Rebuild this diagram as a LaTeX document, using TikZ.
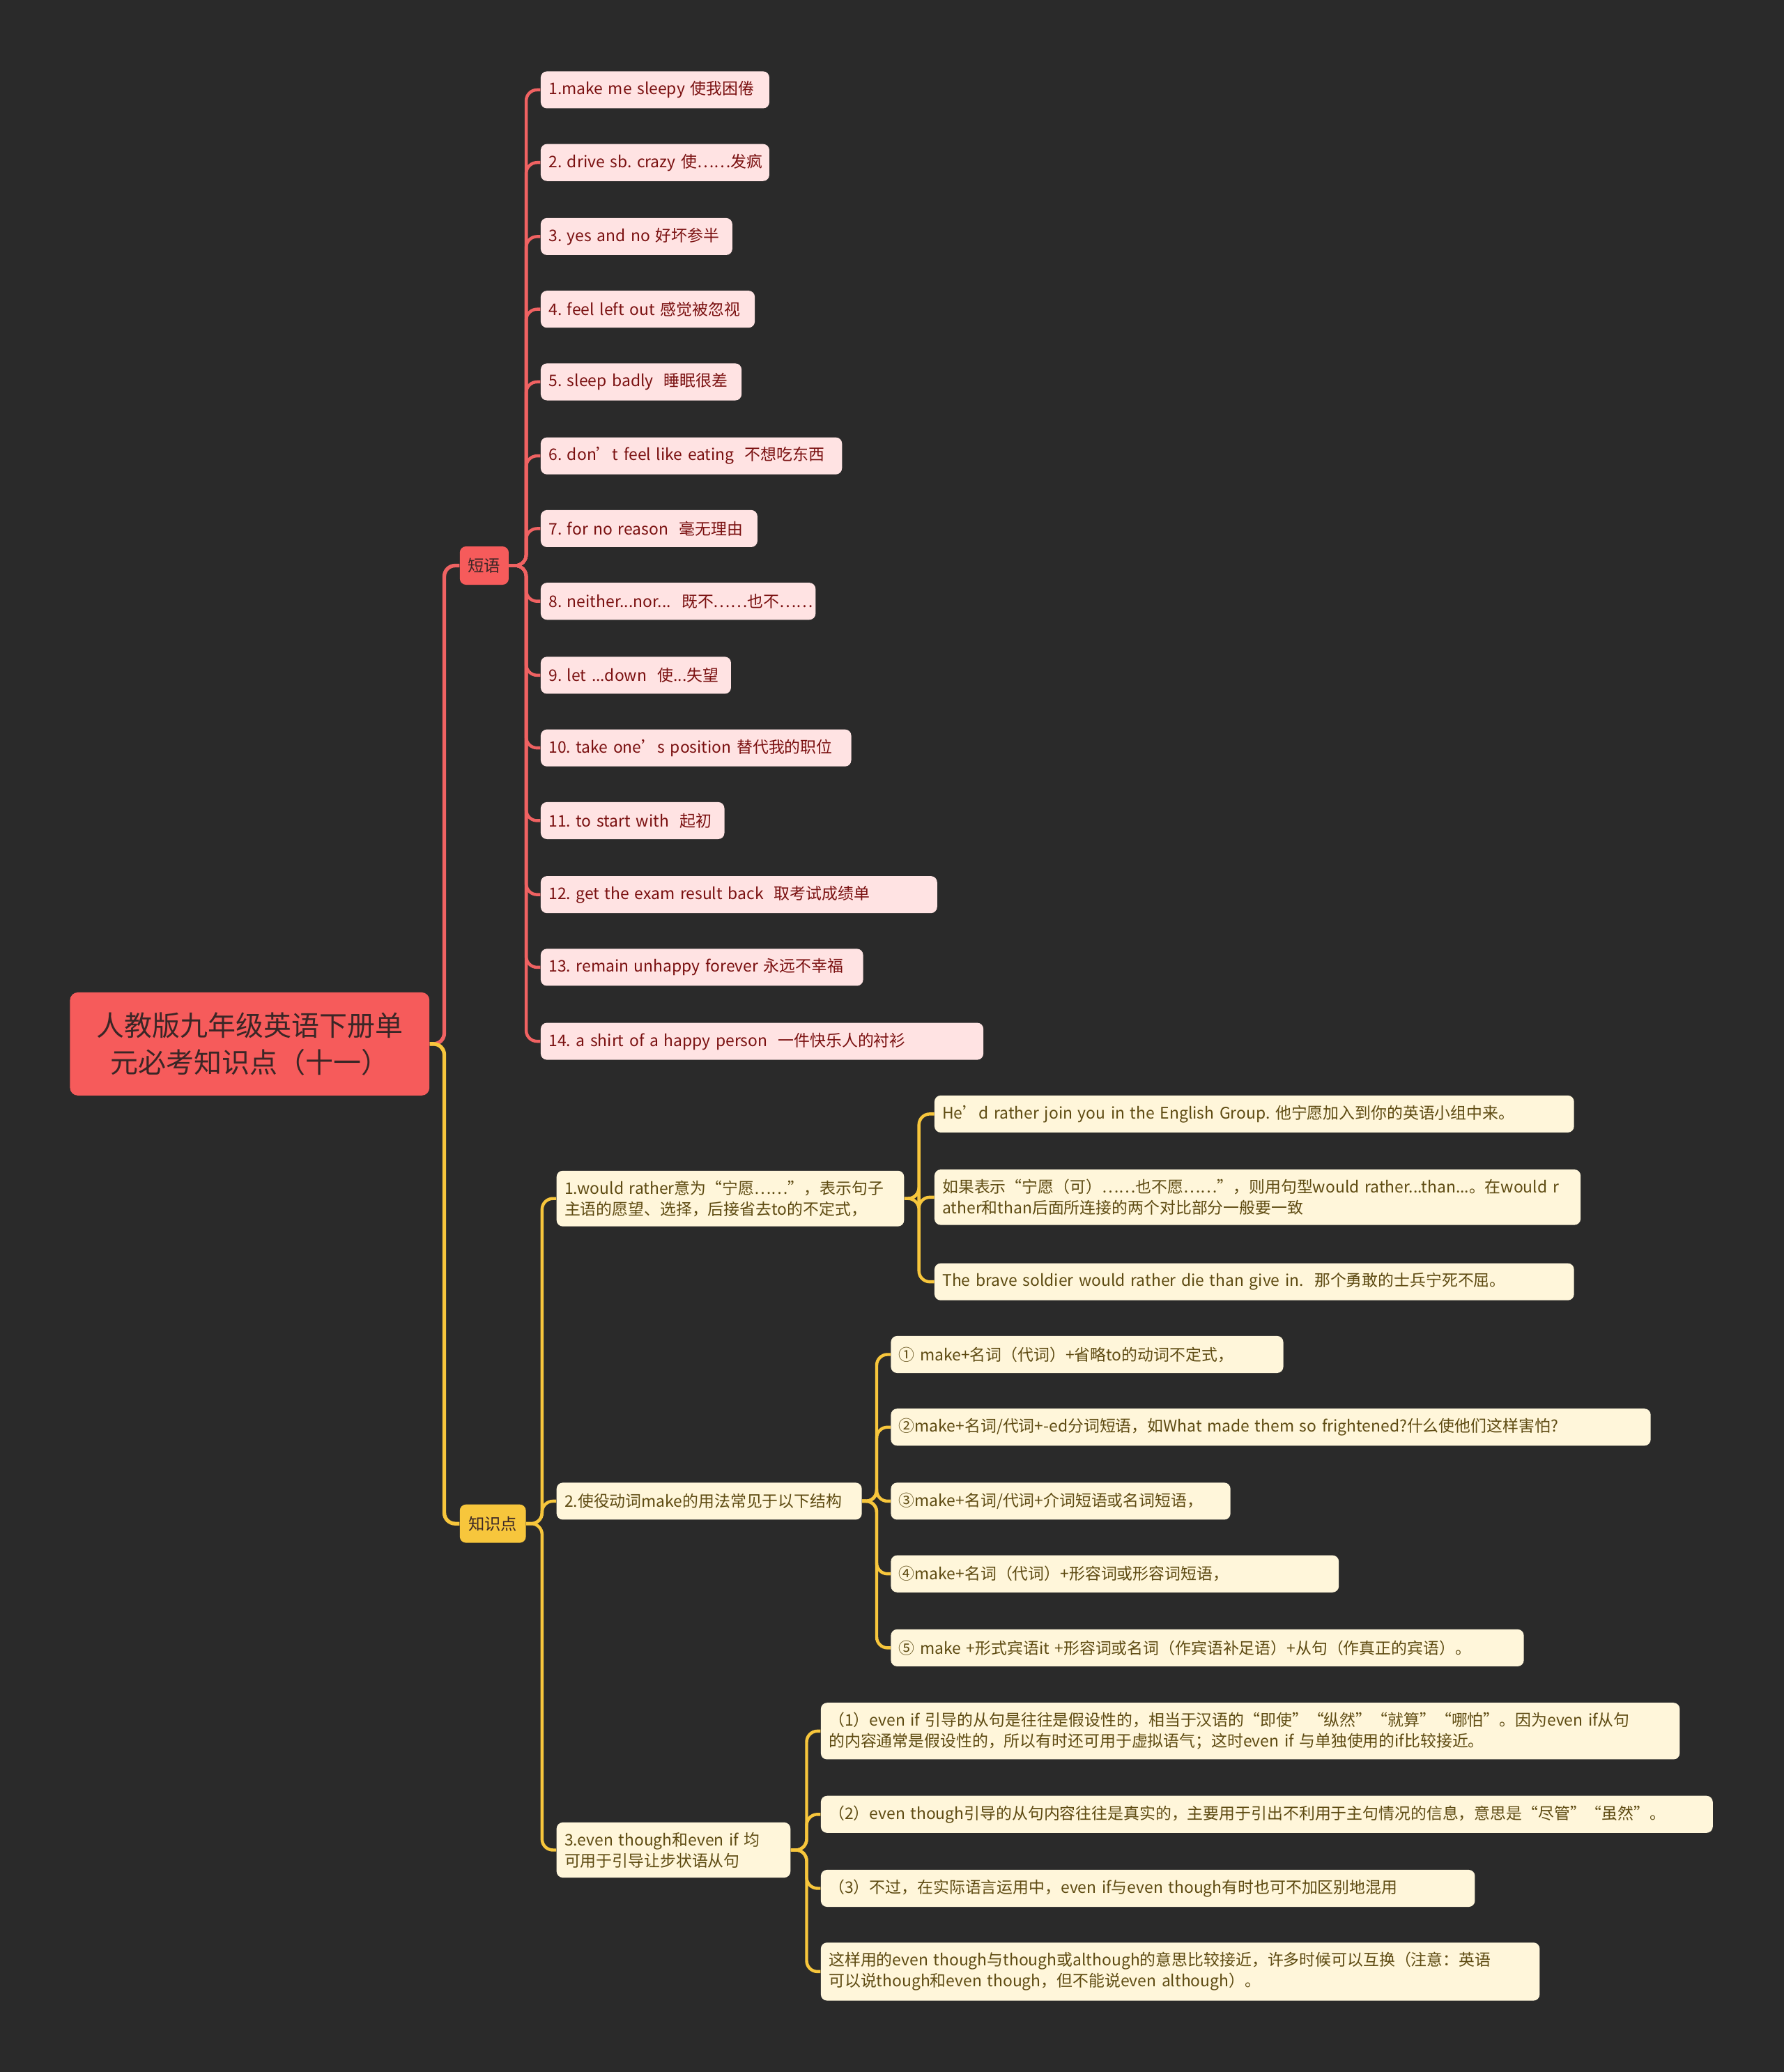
\documentclass[tikz,border=0pt]{standalone}
\usepackage{fontspec}
\setmainfont{Noto Sans CJK SC}
\frenchspacing
\definecolor{bgdark}{HTML}{2A2A2A}
\definecolor{rootred}{HTML}{F65B5B}
\definecolor{linered}{HTML}{F06262}
\definecolor{pinkfill}{HTML}{FFE3E3}
\definecolor{pinktext}{HTML}{7A1010}
\definecolor{gold}{HTML}{F7C63C}
\definecolor{creamfill}{HTML}{FFF6DA}
\definecolor{creamtext}{HTML}{5E4B12}
\definecolor{darktext}{HTML}{3A2626}
\tikzset{
  box/.style={rounded corners=4pt, anchor=west, align=left, inner xsep=0.18cm, inner ysep=0.22cm,
              minimum height=0.84cm, font=\fontsize{10.3}{13.6}\selectfont\frenchspacing},
  phrasebox/.style={box, fill=pinkfill, text=pinktext},
  notebox/.style={box, fill=creamfill, text=creamtext},
  rootbox/.style={rounded corners=5pt, fill=rootred, text=darktext, align=center, minimum width=8.16cm,
              minimum height=2.34cm, font=\fontsize{18}{23.8}\selectfont},
  topicbox/.style={rounded corners=4pt, align=center, inner sep=0pt, minimum height=0.87cm,
              font=\fontsize{10.5}{13}\selectfont, text=darktext},
  redlink/.style={draw=linered, line width=2.4pt, rounded corners=7pt},
  yellink/.style={draw=gold, line width=2.4pt, rounded corners=7pt},
}
\begin{document}
\begin{tikzpicture}[x=0.03cm, y=-0.03cm]
    \fill[bgdark] (0,0) rectangle (1350,1568);
    % root and the two topics
    \node[rootbox] (root) at (189,790) {人教版九年级英语下册单\\元必考知识点（十一）};
    \node[topicbox, fill=rootred, minimum width=1.11cm] (dy) at (366.5,428) {短语};
    \node[topicbox, fill=gold, minimum width=1.5cm] (zs) at (373,1153) {知识点};
    % phrases
    \node[phrasebox, text width=4.83cm] (p1) at (409,68) {1.make me sleepy 使我困倦};
    \node[phrasebox, text width=4.83cm] (p2) at (409,123) {\mbox{2. drive sb. crazy 使……发疯}};
    \node[phrasebox, text width=3.99cm] (p3) at (409,179) {3. yes and no 好坏参半};
    \node[phrasebox, text width=4.50cm] (p4) at (409,234) {4. feel left out 感觉被忽视};
    \node[phrasebox, text width=4.20cm] (p5) at (409,289) {5. sleep badly\ \ 睡眠很差};
    \node[phrasebox, text width=6.48cm] (p6) at (409,345) {6. don’t feel like eating\ \ 不想吃东西};
    \node[phrasebox, text width=4.56cm] (p7) at (409,400) {7. for no reason\ \ 毫无理由};
    \node[phrasebox, text width=5.88cm] (p8) at (409,455) {\mbox{8. neither...nor...\ \ 既不……也不……}};
    \node[phrasebox, text width=3.96cm] (p9) at (409,511) {9. let ...down\ \ 使...失望};
    \node[phrasebox, text width=6.69cm] (p10) at (409,566) {10. take one’s position 替代我的职位};
    \node[phrasebox, text width=3.81cm] (p11) at (409,621) {11. to start with\ \ 起初};
    \node[phrasebox, text width=8.64cm] (p12) at (409,677) {12. get the exam result back\ \ 取考试成绩单};
    \node[phrasebox, text width=6.96cm] (p13) at (409,732) {13. remain unhappy forever 永远不幸福};
    \node[phrasebox, text width=9.69cm] (p14) at (409,788) {14. a shirt of a happy person\ \ 一件快乐人的衬衫};
    % knowledge points
    \node[notebox, text width=7.53cm] (k1) at (421,907) {1.would rather意为“宁愿……”，表示句子\\主语的愿望、选择，后接省去to的不定式，};
    \node[notebox, text width=14.16cm] (k1a) at (707,843) {He’d rather join you in the English Group. 他宁愿加入到你的英语小组中来。};
    \node[notebox, text width=14.31cm] (k1b) at (707,906) {如果表示“宁愿（可）……也不愿……”，则用句型would rather...than...。在would r\\ather和than后面所连接的两个对比部分一般要一致};
    \node[notebox, text width=14.16cm] (k1c) at (707,970) {The brave soldier would rather die than give in.\ \ 那个勇敢的士兵宁死不屈。};
    \node[notebox, text width=6.57cm] (k2) at (421,1136) {2.使役动词make的用法常见于以下结构};
    \node[notebox, text width=8.55cm] (k2a) at (674,1025) {① make+名词（代词）+省略to的动词不定式，};
    \node[notebox, text width=16.89cm] (k2b) at (674,1080) {②make+名词/代词+-ed分词短语，如What made them so frightened?什么使他们这样害怕?};
    \node[notebox, text width=7.35cm] (k2c) at (674,1136) {③make+名词/代词+介词短语或名词短语，};
    \node[notebox, text width=9.81cm] (k2d) at (674,1191) {④make+名词（代词）+形容词或形容词短语，};
    \node[notebox, text width=14.01cm] (k2e) at (674,1247) {⑤ make +形式宾语it +形容词或名词（作宾语补足语）+从句（作真正的宾语）。};
    \node[notebox, text width=4.95cm] (k3) at (421,1400) {3.even though和even if 均\\可用于引导让步状语从句};
    \node[notebox, text width=19.14cm] (k3a) at (621,1310) {（1）even if 引导的从句是往往是假设性的，相当于汉语的“即使”“纵然”“就算”“哪怕”。因为even if从句\\的内容通常是假设性的，所以有时还可用于虚拟语气；这时even if 与单独使用的if比较接近。};
    \node[notebox, text width=19.89cm] (k3b) at (621,1373) {（2）even though引导的从句内容往往是真实的，主要用于引出不利用于主句情况的信息，意思是“尽管”“虽然”。};
    \node[notebox, text width=14.49cm] (k3c) at (621,1429) {（3）不过，在实际语言运用中，even if与even though有时也可不加区别地混用};
    \node[notebox, text width=15.96cm] (k3d) at (621,1492) {这样用的even though与though或although的意思比较接近，许多时候可以互换（注意：英语\\可以说though和even though，但不能说even although）。};
    % connectors
    \draw[redlink] (root.east) -- ++(11,0) |- (dy.west);
    \draw[yellink] (root.east) -- ++(11,0) |- (zs.west);
    \foreach \i in {1,...,14} \draw[redlink, line width=2pt] (dy.east) -- ++(13,0) |- (p\i.west);
    \foreach \i in {1,2,3} \draw[yellink, line width=2pt] (zs.east) -- ++(12,0) |- (k\i.west);
    \foreach \j in {a,b,c} \draw[yellink, line width=2pt] (k1.east) -- ++(11,0) |- (k1\j.west);
    \foreach \j in {a,...,e} \draw[yellink, line width=2pt] (k2.east) -- ++(11,0) |- (k2\j.west);
    \foreach \j in {a,...,d} \draw[yellink, line width=2pt] (k3.east) -- ++(12,0) |- (k3\j.west);
\end{tikzpicture}
\end{document}
